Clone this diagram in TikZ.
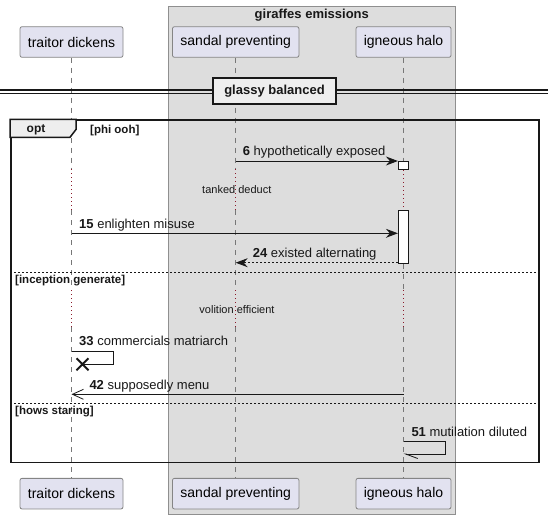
\documentclass[tikz,border=0pt]{standalone}
\usepackage{fontspec}
\setmainfont{Liberation Sans}
\usetikzlibrary{arrows.meta,shapes.misc}
\definecolor{partfill}{HTML}{E2E2F0}
\definecolor{partline}{HTML}{858585}
\definecolor{grpfill}{HTML}{DDDDDD}
\definecolor{grpline}{HTML}{8F8F8F}
\definecolor{lifecol}{HTML}{777777}
\definecolor{dotcol}{HTML}{8B1A2B}
\definecolor{ink}{HTML}{181818}
\definecolor{tabfill}{HTML}{EEEEEE}
\begin{document}
\begin{tikzpicture}[x=1pt,y=-1pt,
  part/.style={draw=partline, fill=partfill, rounded corners=2pt, line width=0.8pt, minimum height=30.6pt, inner sep=0pt, font=\fontsize{14}{16}\selectfont},
  grpbox/.style={draw=grpline, fill=grpfill, line width=1pt, inner sep=0pt},
  life/.style={draw=lifecol, line width=0.8pt, dash pattern=on 5pt off 5pt},
  delayline/.style={draw=dotcol, line width=0.8pt, dash pattern=on 1pt off 3pt},
  msg/.style={draw=ink, line width=1pt, -{Stealth[length=12pt,width=9pt,inset=4pt]}},
  rmsg/.style={msg, dash pattern=on 2pt off 2pt},
  openmsg/.style={draw=ink, line width=1pt, -{Straight Barb[length=11pt,width=10pt,line width=0.8pt]}},
  halfmsg/.style={draw=ink, line width=1pt, -{Straight Barb[harpoon,length=12pt,width=9pt,line width=0.8pt]}},
  lbl/.style={font=\fontsize{13}{15}\selectfont, inner sep=0pt, anchor=base west, text=ink},
  note/.style={font=\fontsize{11}{13}\selectfont, inner sep=0pt, text=ink},
  act/.style={draw=ink, fill=white, line width=0.8pt, inner sep=0pt, minimum width=10.4pt, anchor=north},
  guard/.style={font=\bfseries\fontsize{11.5}{13}\selectfont, inner sep=0pt, anchor=west, text=ink},
  sepline/.style={draw=ink, line width=0.8pt, dash pattern=on 2pt off 2pt},
  dblline/.style={draw=ink, line width=1.1pt},
]
\useasboundingbox (0,0) rectangle (554,519);
% group box
\node[grpbox, minimum width=287pt, minimum height=508pt, anchor=north west] (grp) at (168.3,6) {};
\node[font=\bfseries\fontsize{13}{15}\selectfont, inner sep=0pt, text=ink] (grpT) at (311.8,15) {giraffes emissions};
% participants
\node[part, minimum width=103pt] (tA) at (71.5,42) {traitor dickens};
\node[part, minimum width=126.5pt] (sB) at (235.7,42) {sandal preventing};
\node[part, minimum width=95pt] (iC) at (403.5,42) {igneous halo};
\node[part, minimum width=103pt] (tAb) at (71.5,493.65) {traitor dickens};
\node[part, minimum width=126.5pt] (sBb) at (235.7,493.65) {sandal preventing};
\node[part, minimum width=95pt] (iCb) at (403.5,493.65) {igneous halo};
% helper y levels
\coordinate (yd1a) at (0,169.3);
\coordinate (yd1b) at (0,210);
\coordinate (yd2a) at (0,290);
\coordinate (yd2b) at (0,327);
% activations
\node[act, minimum height=8.3pt] (act1) at (403.5,161) {};
\node[act, minimum height=53.3pt] (act2) at (403.5,210) {};
% lifelines
\draw[life] (tA.south) -- (tA |- yd1a);
\draw[delayline] (tA |- yd1a) -- (tA |- yd1b);
\draw[life] (tA |- yd1b) -- (tA |- yd2a);
\draw[delayline] (tA |- yd2a) -- (tA |- yd2b);
\draw[life] (tA |- yd2b) -- (tAb.north);
\draw[life] (sB.south) -- (sB |- yd1a);
\draw[delayline] (sB |- yd1a) -- (sB |- yd1b);
\draw[life] (sB |- yd1b) -- (sB |- yd2a);
\draw[delayline] (sB |- yd2a) -- (sB |- yd2b);
\draw[life] (sB |- yd2b) -- (sBb.north);
\draw[life] (iC.south) -- (act1.north);
\draw[delayline] (act1.south) -- (act2.north);
\draw[life] (act2.south) -- (iC |- yd2a);
\draw[delayline] (iC |- yd2a) -- (iC |- yd2b);
\draw[life] (iC |- yd2b) -- (iCb.north);
% divider
\coordinate (dvL1) at (0,90); \coordinate (dvR1) at (548,90);
\coordinate (dvL2) at (0,93.3); \coordinate (dvR2) at (548,93.3);
\draw[dblline] (dvL1) -- (dvR1);
\draw[dblline] (dvL2) -- (dvR2);
\node[draw=ink, line width=1.8pt, fill=tabfill, minimum width=122.4pt, minimum height=26.3pt, inner sep=0pt, font=\bfseries\fontsize{13}{15}\selectfont, text=ink] (div) at (274.5,90.85) {glassy balanced};
% opt frame
\node[draw=ink, line width=1.5pt, minimum width=528pt, minimum height=342.4pt, anchor=north west, inner sep=0pt] (opt) at (10,119.3) {};
\draw[ink, line width=1.5pt, fill=tabfill] (opt.north west) -- ++(66,0) -- ++(0,10.2) -- ++(-6,7.8) -- ++(-60,0) -- cycle;
\node[font=\bfseries\fontsize{12}{14}\selectfont, inner sep=0pt, text=ink] (optT) at (36,130.3) {opt};
\node[guard] (g1) at (90,130.3) {[phi ooh]};
\coordinate (ys1) at (0,272);
\coordinate (ys2) at (0,403.3);
\draw[sepline] (opt.west |- ys1) -- (opt.east |- ys1);
\draw[sepline] (opt.west |- ys2) -- (opt.east |- ys2);
\node[guard] (g2) at (15,280.7) {[inception generate]};
\node[guard] (g3) at (15,411.7) {[hows staring]};
% messages
\coordinate (ym15) at (0,233.3);
\coordinate (ym24) at (0,262.7);
\coordinate (ym33) at (0,351);
\coordinate (ym42) at (0,394.3);
\coordinate (ym51) at (0,441.7);
\coordinate (ym51b) at (0,454);
\draw[msg] (sB |- act1.north) -- (act1.north west);
\node[lbl] (l6) at (242.7,155.7) {\textbf{6} hypothetically exposed};
\node[note] (n1) at (236.8,190) {tanked deduct};
\draw[msg] (tA |- ym15) -- (act2.west |- ym15);
\node[lbl] (l15) at (79,228) {\textbf{15} enlighten misuse};
\draw[rmsg] (act2.west |- ym24) -- (sB |- ym24);
\node[lbl] (l24) at (252.7,257.5) {\textbf{24} existed alternating};
\node[note] (n2) at (237,310) {volition efficient};
\node[cross out, draw=ink, line width=2pt, minimum size=10pt, inner sep=0pt] (xm) at (82.5,364.3) {};
\draw[ink, line width=1pt] (tA |- ym33) -- ++(41.8,0) -- ++(0,13.3) -- (xm.center);
\node[lbl] (l33) at (79,345.8) {\textbf{33} commercials matriarch};
\draw[openmsg] (iC |- ym42) -- (tA |- ym42);
\node[lbl] (l42) at (89.3,389.2) {\textbf{42} supposedly menu};
\draw[halfmsg] (iC |- ym51) -- ++(42.2,0) -- ++(0,12.3) -- (iC |- ym51b);
\node[lbl] (l51) at (411.3,436.2) {\textbf{51} mutilation diluted};
\end{tikzpicture}
\end{document}
